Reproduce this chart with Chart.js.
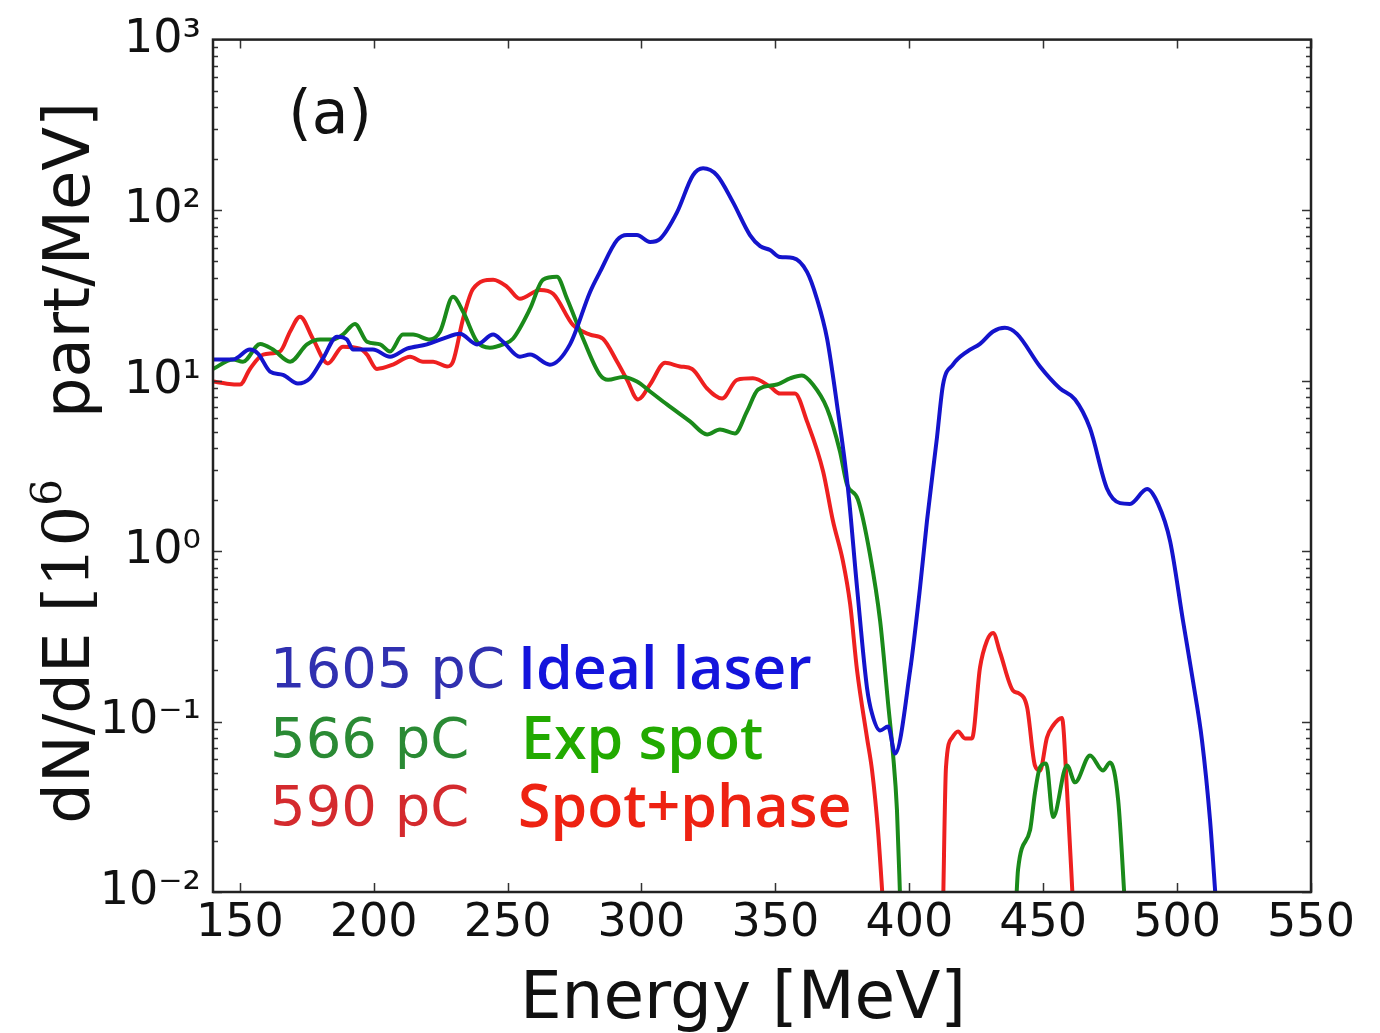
<!DOCTYPE html>
<html>
<head>
<meta charset="utf-8">
<script src="https://cdn.jsdelivr.net/npm/chart.js@4.4.1/dist/chart.umd.min.js"></script>
<style>
  html, body { margin:0; padding:0; background:#fff; }
  #wrap { width:1380px; height:1033px; }
</style>
</head>
<body>
<div id="wrap"><canvas id="spectrum" width="1380" height="1033"></canvas></div>
<script>
// energy [MeV] and dN/dE [1e6 part/MeV] (null = line break)
const blueE = [140.0,147.5,153.8,156.8,161.3,166.1,171.7,176.2,181.1,186.3,
  190.0,192.3,199.7,206.1,212.4,219.9,225.9,232.2,238.6,244.6,
  248.3,254.6,258.4,265.8,273.3,280.8,284.5,290.9,294.6,298.3,
  303.2,306.9,313.3,319.2,323.0,328.2,334.2,340.5,344.3,348.0,
  351.7,356.6,361.8,365.5,369.3,373.0,377.1,380.5,384.2,386.1,
  389.1,392.1,394.7,400.3,404.0,406.6,410.3,412.6,416.3,421.6,
  426.4,431.3,435.7,440.2,448.8,456.3,461.9,467.5,473.8,478.7,
  482.4,488.8,492.9,497.4,502.2,505.9,509.3,512.3,514.5];
const blueN = [13.3,13.3,15.2,14.4,11.3,10.8,9.6,10.3,13.5,18.1,
  17.4,15.2,15.2,13.8,15.4,16.3,17.6,18.8,16.3,18.6,
  16.9,13.8,14.2,12.4,16.3,33.1,43.4,66.8,71.4,71.4,
  65.0,67.7,97.3,160,176,160,111,71.4,61.5,58.3,
  53.1,52.4,43.4,30.2,17.6,7.24,2.33,0.608,0.158,0.111,
  0.0885,0.0935,0.065,0.199,0.608,1.50,4.58,9.48,12.4,14.8,
  16.4,19.4,20.4,18.8,12.1,8.98,7.74,5.24,2.33,1.91,
  1.89,2.31,1.89,1.14,0.390,0.174,0.0774,0.0264,0.0087];

const greenE = [140.0,147.5,151.2,157.6,162.4,168.8,175.1,180.0,184.8,188.5,
  193.0,197.5,202.4,206.1,210.9,214.7,221.0,224.8,229.6,233.4,
  238.6,243.4,248.3,252.0,258.4,263.2,268.4,272.2,278.2,284.5,
  287.5,293.1,298.3,303.2,309.5,318.1,324.5,329.3,334.9,339.4,
  343.5,350.6,355.5,359.9,364.0,369.3,374.1,376.7,380.8,385.3,
  389.1,392.1,393.9,395.4,396.7,418.0,439.8,440.6,445.1,446.9,
  448.8,451.1,453.7,458.9,461.9,467.5,472.3,475.0,478.0,480.6];
const greenN = [11.7,13.3,12.9,16.4,15.2,12.9,16.3,17.4,17.4,18.6,
  21.5,16.9,16.3,14.8,18.6,18.6,17.4,19.4,31.0,25.3,
  16.9,15.6,16.3,17.6,26.4,39.0,40.6,30.2,17.6,10.8,
  10.1,10.5,9.87,8.63,7.24,5.76,4.83,5.17,4.90,6.59,
  8.85,9.48,10.3,10.7,9.48,6.86,3.85,2.47,2.01,0.96,
  0.39,0.127,0.065,0.0302,0.008,null,0.008,0.0135,0.0231,0.0379,
  0.0538,0.0568,0.0275,0.0553,0.0440,0.0632,0.0516,0.0575,0.0345,0.008];

const redE = [140.0,145.2,150.1,153.8,158.7,165.0,168.8,172.5,177.3,182.9,
  188.5,194.9,197.5,201.2,207.2,213.6,218.4,222.2,227.4,229.6,
  233.4,237.1,244.6,249.8,254.6,262.1,267.0,274.4,280.8,285.6,
  290.9,294.6,298.7,303.2,308.8,314.4,318.9,324.5,330.1,335.7,
  341.6,348.0,351.7,357.3,361.8,367.8,371.5,375.2,377.9,380.5,
  384.2,386.1,388.3,390.3,400.0,412.6,413.7,416.0,418.2,420.8,
  423.4,426.4,429.0,431.3,433.9,438.7,441.0,444.0,446.9,448.8,
  451.4,453.7,457.0,458.9,461.2];
const redN = [9.87,9.59,9.48,11.7,14.2,14.8,19.4,23.7,17.6,12.6,
  15.8,15.4,14.2,11.7,12.4,13.8,12.9,12.9,12.1,12.9,
  23.1,34.5,39.0,35.5,30.2,34.0,32.3,21.2,18.6,17.6,
  12.9,10.1,7.74,9.48,12.7,12.1,11.7,8.98,7.85,10.1,
  10.3,9.22,8.39,8.39,5.76,2.94,1.50,0.875,0.490,0.199,
  0.0805,0.0516,0.0231,0.008,null,0.008,0.0538,0.0805,0.0875,0.0796,
  0.0796,0.207,0.298,0.331,0.254,0.152,0.146,0.121,0.0553,0.0516,
  0.0805,0.0948,0.105,0.0394,0.008];

const xTicks = [150,200,250,300,350,400,450,500,550];
const yTicks = [0.01,0.1,1,10,100,1000];
const yTickLabels = ['10⁻²','10⁻¹','10⁰','10¹','10²','10³'];

const xTitle = 'Energy [MeV]';
// y title pieces: [text, font, raise]
const yTitleParts = [
  ['dN/dE ', '64px "DejaVu Sans"', 0],
  ['[10', '64px "DejaVu Serif"', 0],
  ['6', '42px "DejaVu Serif"', 28],
  ['   part/MeV]', '64px "DejaVu Sans"', 0]
];
const panelLabel = '(a)';
const chargeLabels = ['1605 pC','566 pC','590 pC'];
const caseLabels = ['Ideal laser','Exp spot','Spot+phase'];

const pts = (xs, ys) => xs.map((e, i) => ({ x: e, y: ys[i] }));

// inward ticks + frame, matplotlib style
const frameTicks = {
  id: 'frameTicks',
  afterDatasetsDraw(chart) {
    const { ctx, chartArea: a, scales: { x, y } } = chart;
    ctx.save();
    ctx.strokeStyle = '#333';
    ctx.lineWidth = 1.5;
    ctx.beginPath();
    xTicks.forEach(v => {
      const px = Math.round(x.getPixelForValue(v)) + 0.5;
      ctx.moveTo(px, a.bottom); ctx.lineTo(px, a.bottom - 9);
      ctx.moveTo(px, a.top); ctx.lineTo(px, a.top + 9);
    });
    for (let p = -2; p < 3; p++) {
      for (let k = 1; k < 10; k++) {
        const py = Math.round(y.getPixelForValue(k * Math.pow(10, p))) + 0.5;
        const len = k === 1 ? 9 : 5;
        ctx.moveTo(a.left, py); ctx.lineTo(a.left + len, py);
        ctx.moveTo(a.right, py); ctx.lineTo(a.right - len, py);
      }
    }
    ctx.stroke();
    ctx.strokeStyle = '#222';
    ctx.lineWidth = 2.5;
    ctx.strokeRect(a.left, a.top, a.width, a.height);
    ctx.restore();
  }
};

// axis titles, panel letter and the two columns of labels
const annotations = {
  id: 'annotations',
  afterDraw(chart) {
    const { ctx, chartArea: a, scales: { x, y } } = chart;
    ctx.save();
    ctx.fillStyle = '#111';

    // x title (sits a little left of the axis centre in the original)
    ctx.textAlign = 'center';
    ctx.textBaseline = 'alphabetic';
    ctx.font = '66px "DejaVu Sans"';
    ctx.fillText(xTitle, (a.left + a.right) / 2 - 19, 1018);

    // y title, rotated, mixed fonts
    let total = 0;
    yTitleParts.forEach(([t, f]) => { ctx.font = f; total += ctx.measureText(t).width; });
    ctx.save();
    ctx.translate(89, (a.top + a.bottom) / 2 - 3);
    ctx.rotate(-Math.PI / 2);
    ctx.textAlign = 'left';
    let cx = -total / 2;
    yTitleParts.forEach(([t, f, raise]) => {
      ctx.font = f;
      ctx.fillText(t, cx, -raise);
      cx += ctx.measureText(t).width;
    });
    ctx.restore();

    ctx.textBaseline = 'middle';
    ctx.textAlign = 'center';
    ctx.font = '60px "DejaVu Sans"';
    ctx.fillText(panelLabel, x.getPixelForValue(183.7), y.getPixelForValue(350));

    const rowsY = [0.194, 0.0754, 0.0302];
    const chargeColors = ['#3030b0', '#2a8a34', '#d42a2e'];
    const caseColors = ['#1414dc', '#22aa00', '#ee2212'];
    ctx.textAlign = 'left';
    chargeLabels.forEach((t, i) => {
      ctx.font = '56px "DejaVu Sans"';
      ctx.fillStyle = chargeColors[i];
      ctx.fillText(t, x.getPixelForValue(161.3), y.getPixelForValue(rowsY[i]));
    });
    caseLabels.forEach((t, i) => {
      ctx.font = '600 59px "Open Sans"';
      ctx.fillStyle = caseColors[i];
      ctx.fillText(t, x.getPixelForValue(i === 1 ? 255.0 : 253.9), y.getPixelForValue(rowsY[i]));
    });
    ctx.restore();
  }
};

const line = (data, color) => ({
  data, borderColor: color, borderWidth: 4, pointRadius: 0,
  cubicInterpolationMode: 'monotone', spanGaps: false, fill: false
});

new Chart(document.getElementById('spectrum').getContext('2d'), {
  type: 'line',
  data: {
    datasets: [
      line(pts(blueE, blueN), '#1414cc'),
      line(pts(greenE, greenN), '#1a8a1a'),
      line(pts(redE, redN), '#ee2020')
    ]
  },
  options: {
    responsive: false,
    animation: false,
    layout: { padding: { top: 37, right: 69, left: 0, bottom: 0 } },
    plugins: { legend: { display: false }, tooltip: { enabled: false } },
    scales: {
      x: {
        type: 'linear', min: 140, max: 550,
        afterBuildTicks: s => { s.ticks = xTicks.map(v => ({ value: v })); },
        afterFit: s => { s.height = 141; },
        grid: { display: false, drawTicks: false },
        border: { display: false },
        ticks: { color: '#111', padding: 4, maxRotation: 0, font: { family: 'DejaVu Sans', size: 46 } },
        title: { display: false }
      },
      y: {
        type: 'logarithmic', min: 0.01, max: 1000,
        afterBuildTicks: s => { s.ticks = yTicks.map(v => ({ value: v })); },
        afterFit: s => { s.width = 213; },
        grid: { display: false, drawTicks: false },
        border: { display: false },
        ticks: {
          color: '#111', padding: 12, font: { family: 'DejaVu Sans', size: 46 },
          callback: (v) => yTickLabels[yTicks.findIndex(t => Math.abs(t - v) / t < 1e-6)]
        },
        title: { display: false }
      }
    }
  },
  plugins: [frameTicks, annotations]
});
</script>
</body>
</html>
